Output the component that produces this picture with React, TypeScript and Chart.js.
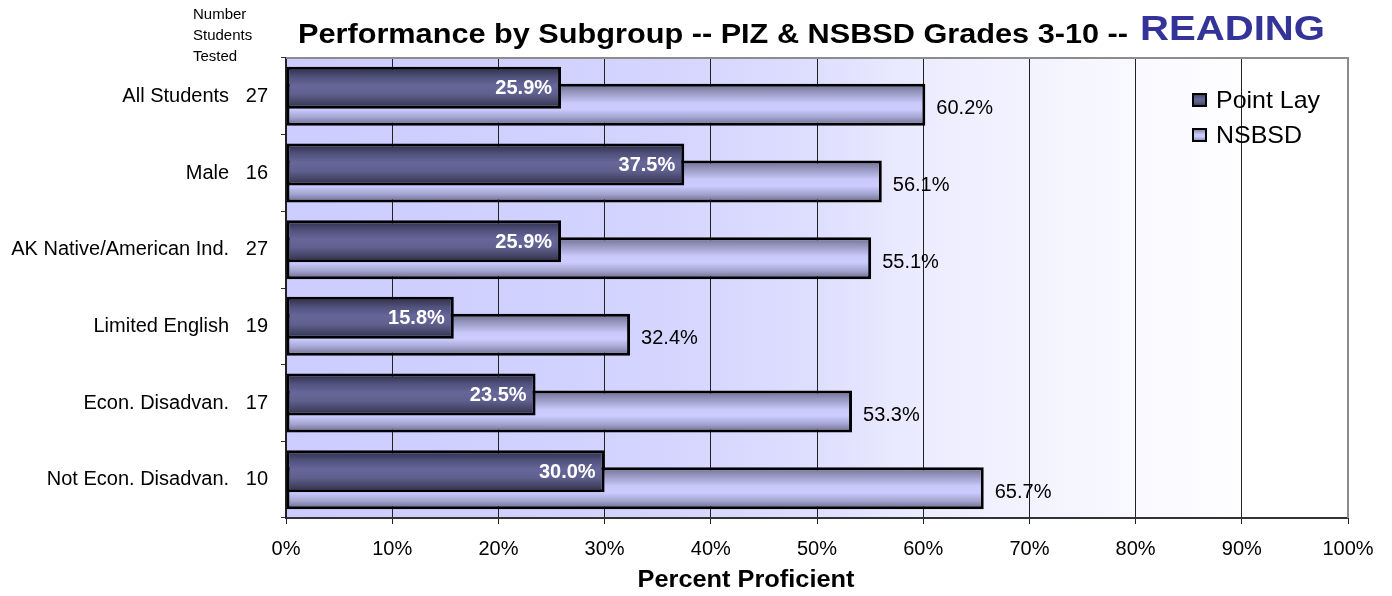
import React, { useEffect, useRef } from 'react';
import { Chart, registerables } from 'chart.js';

Chart.register(...registerables);

// ---- Data ----
const categories = [
  'All Students',
  'Male',
  'AK Native/American Ind.',
  'Limited English',
  'Econ. Disadvan.',
  'Not Econ. Disadvan.',
];
const studentsTested = [27, 16, 27, 19, 17, 10];
const pointLay = [25.9, 37.5, 25.9, 15.8, 23.5, 30.0];
const nsbsd = [60.2, 56.1, 55.1, 32.4, 53.3, 65.7];
const seriesNames = ['Point Lay', 'NSBSD'];
const xMin = 0;
const xMax = 100;
const xStep = 10;
const titleMain = 'Performance by Subgroup -- PIZ & NSBSD Grades 3-10 --';
const titleSubject = 'READING';
const countHeader = ['Number', 'Students', 'Tested'];
const xAxisTitle = 'Percent Proficient';

const FONT = '"Liberation Sans", Arial, Helvetica, sans-serif';

function plGradient(ctx: CanvasRenderingContext2D, top: number, bottom: number) {
  const g = ctx.createLinearGradient(0, top, 0, bottom);
  g.addColorStop(0, '#2a2a42');
  g.addColorStop(0.25, '#52527e');
  g.addColorStop(0.45, '#666699');
  g.addColorStop(0.65, '#60608f');
  g.addColorStop(0.85, '#444466');
  g.addColorStop(1, '#2a2a40');
  return g;
}

function nsGradient(ctx: CanvasRenderingContext2D, top: number, bottom: number) {
  const g = ctx.createLinearGradient(0, top, 0, bottom);
  g.addColorStop(0, '#6c6c8c');
  g.addColorStop(0.15, '#8c8cb4');
  g.addColorStop(0.45, '#c8c8fa');
  g.addColorStop(0.6, '#ccccff');
  g.addColorStop(0.8, '#a4a4d0');
  g.addColorStop(1, '#666686');
  return g;
}

function textScale(ctx: CanvasRenderingContext2D, text: string, font: string, targetWidth: number) {
  ctx.save();
  ctx.font = font;
  const w = ctx.measureText(text).width;
  ctx.restore();
  return targetWidth / w;
}

function drawText(
  ctx: CanvasRenderingContext2D,
  text: string,
  x: number,
  y: number,
  font: string,
  color: string,
  align: 'left' | 'center' | 'right',
  sx: number = 1
) {
  ctx.save();
  ctx.font = font;
  ctx.fillStyle = color;
  ctx.textBaseline = 'alphabetic';
  ctx.textAlign = 'left';
  const w = ctx.measureText(text).width;
  const ww = w * sx;
  const x0 = align === 'center' ? x - ww / 2 : align === 'right' ? x - ww : x;
  ctx.translate(x0, y);
  ctx.scale(sx, 1);
  ctx.fillText(text, 0, 0);
  ctx.restore();
}

const decor = {
  id: 'decor',
  beforeDraw(chart: any) {
    const { ctx, chartArea: a } = chart;
    const g = ctx.createLinearGradient(a.left, 0, a.right, 0);
    g.addColorStop(0, '#ccccff');
    g.addColorStop(0.35, '#d4d4ff');
    g.addColorStop(0.5, '#dedeff');
    g.addColorStop(0.6, '#ececff');
    g.addColorStop(0.75, '#f6f6ff');
    g.addColorStop(0.92, '#ffffff');
    g.addColorStop(1, '#ffffff');
    ctx.save();
    ctx.fillStyle = g;
    ctx.fillRect(a.left, a.top, a.right - a.left, a.bottom - a.top);
    ctx.restore();
  },
  beforeDatasetsDraw(chart: any) {
    const ctx = chart.ctx;
    chart.data.datasets.forEach((_ds: any, di: number) => {
      const meta = chart.getDatasetMeta(di);
      meta.data.forEach((el: any) => {
        const top = el.y - el.height / 2;
        const bottom = el.y + el.height / 2;
        try {
          el.options.backgroundColor = di === 0 ? plGradient(ctx, top, bottom) : nsGradient(ctx, top, bottom);
        } catch (e) {
          /* ignore */
        }
      });
    });
  },
  afterDatasetsDraw(chart: any) {
    const { ctx, chartArea: a } = chart;
    // data labels
    chart.data.datasets.forEach((ds: any, di: number) => {
      const meta = chart.getDatasetMeta(di);
      meta.data.forEach((el: any, i: number) => {
        const txt = Number(ds.data[i]).toFixed(1) + '%';
        ctx.save();
        ctx.textBaseline = 'middle';
        if (di === 0) {
          ctx.font = `bold 20px ${FONT}`;
          ctx.fillStyle = '#ffffff';
          ctx.textAlign = 'right';
          ctx.fillText(txt, el.x - 9, el.y + 1);
        } else {
          ctx.font = `20px ${FONT}`;
          ctx.fillStyle = '#000000';
          ctx.textAlign = 'left';
          ctx.fillText(txt, el.x + 11, el.y + 4);
        }
        ctx.restore();
      });
    });
    // gray top / right frame
    ctx.save();
    ctx.strokeStyle = '#8c8c8c';
    ctx.lineWidth = 2;
    ctx.beginPath();
    ctx.moveTo(a.left, a.top);
    ctx.lineTo(a.right, a.top);
    ctx.lineTo(a.right, a.bottom);
    ctx.stroke();
    ctx.restore();
  },
  afterDraw(chart: any) {
    const ctx = chart.ctx;
    // Title
    const tFont = `bold 28px ${FONT}`;
    drawText(ctx, titleMain, 290, 35, tFont, '#000000', 'left', textScale(ctx, titleMain, tFont, 830));
    const rFont = `bold 35px ${FONT}`;
    drawText(ctx, titleSubject, 1132, 32, rFont, '#333399', 'left', textScale(ctx, titleSubject, rFont, 185));
    // Number Students Tested header
    const hb = [11, 32, 53];
    countHeader.forEach((t, i) => drawText(ctx, t, 185, hb[i], `15px ${FONT}`, '#000000', 'left'));
    // Legend
    const lFont = `24px ${FONT}`;
    const lsx = textScale(ctx, seriesNames[0], lFont, 104);
    const rows = [92, 127];
    seriesNames.forEach((name, i) => {
      const cy = rows[i];
      const bx = 1184;
      const by = cy - 7;
      ctx.save();
      ctx.fillStyle = i === 0 ? plGradient(ctx, by, by + 14) : nsGradient(ctx, by, by + 14);
      ctx.fillRect(bx, by, 15, 14);
      ctx.strokeStyle = '#000';
      ctx.lineWidth = 2;
      ctx.strokeRect(bx + 1, by + 1, 13, 12);
      ctx.restore();
      drawText(ctx, name, 1208, cy + 8, lFont, '#000000', 'left', lsx);
    });
    // X axis title
    const aFont = `bold 23px ${FONT}`;
    drawText(ctx, xAxisTitle, 738, 579, aFont, '#000000', 'center', textScale(ctx, xAxisTitle, aFont, 217));
  },
};

export default function App() {
  const canvasRef = useRef<HTMLCanvasElement | null>(null);

  useEffect(() => {
    const canvas = canvasRef.current;
    if (!canvas) return;
    const chart = new Chart(canvas, {
      type: 'bar',
      data: {
        labels: categories,
        datasets: [
          {
            label: seriesNames[0],
            data: pointLay,
            backgroundColor: () => '#666699',
            borderColor: '#000000',
            borderWidth: 3,
            borderSkipped: false,
            categoryPercentage: 0.443,
            barPercentage: 2.47,
          },
          {
            label: seriesNames[1],
            data: nsbsd,
            backgroundColor: () => '#ccccff',
            borderColor: '#000000',
            borderWidth: 3,
            borderSkipped: false,
            categoryPercentage: 0.443,
            barPercentage: 2.47,
          },
        ],
      },
      options: {
        indexAxis: 'y',
        animation: false,
        responsive: true,
        maintainAspectRatio: false,
        events: [],
        layout: { padding: { left: 0, right: 36, top: 50, bottom: 0 } },
        plugins: {
          legend: { display: false },
          title: { display: false },
          tooltip: { enabled: false },
        },
        scales: {
          x: {
            min: xMin,
            max: xMax,
            ticks: {
              stepSize: xStep,
              callback: (v: any) => `${v}%`,
              color: '#000000',
              font: { family: FONT, size: 20 },
              padding: 13,
              maxRotation: 0,
              autoSkip: false,
            },
            grid: { color: '#222222', lineWidth: 1, tickLength: 6, drawOnChartArea: true },
            border: { color: '#333333', width: 2 },
            afterFit: (s: any) => {
              s.height = 70;
              s.paddingLeft = 0;
              s.paddingRight = 0;
            },
          },
          y: {
            ticks: {
              color: '#000000',
              font: { family: FONT, size: 20 },
              padding: 13,
              callback: (_v: any, i: number) => `${categories[i]}   ${studentsTested[i]}`,
            },
            grid: { display: true, drawOnChartArea: false, offset: true, color: '#333333', tickLength: 5 },
            border: { color: '#222222', width: 1.5 },
            afterFit: (s: any) => {
              s.width = 278;
              s.paddingTop = 0;
              s.paddingBottom = 0;
            },
          },
        },
      },
      plugins: [decor],
    } as any);
    return () => chart.destroy();
  }, []);

  return (
    <div style={{ position: 'relative', width: 1376, height: 580 }}>
      <canvas ref={canvasRef} style={{ display: 'block' }} />
    </div>
  );
}
